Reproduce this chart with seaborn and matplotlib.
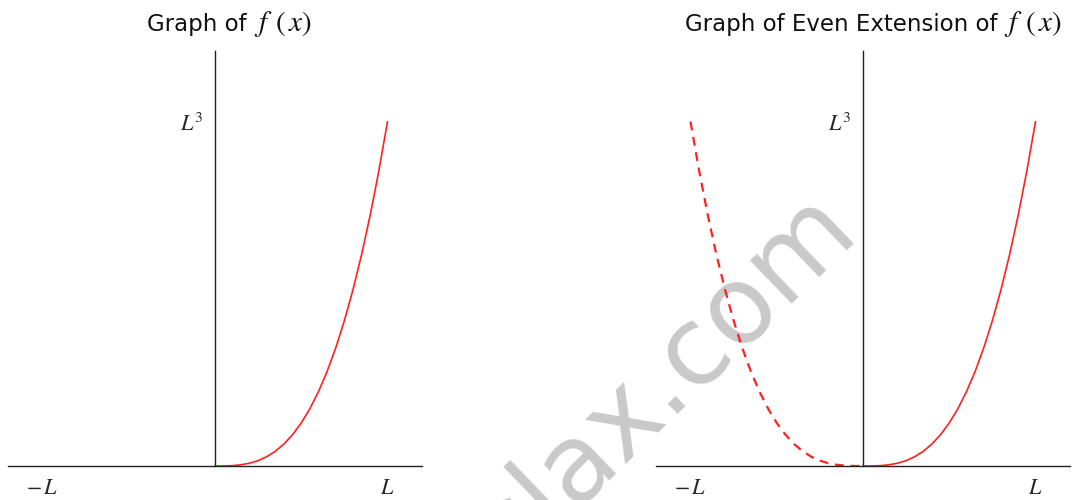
import matplotlib
matplotlib.use("Agg")
import matplotlib.pyplot as plt
import seaborn as sns


# -----------------------------
# DATA (x in units of L, y in units of L^3)
# -----------------------------
curve_x = [0.0, 0.05, 0.1, 0.15, 0.2, 0.25, 0.3, 0.35, 0.4, 0.45, 0.5,
           0.55, 0.6, 0.65, 0.7, 0.75, 0.8, 0.85, 0.9, 0.95, 1.0]
curve_y = [0.0, 0.0001, 0.001, 0.0034, 0.008, 0.0156, 0.027, 0.0429, 0.064,
           0.0911, 0.125, 0.1664, 0.216, 0.2746, 0.343, 0.4219, 0.512,
           0.6141, 0.729, 0.8574, 1.0]
mirror_x = [-v for v in curve_x]

x_ticks = [-1.0, 1.0]
x_tick_labels = ["$-\\,L$", "$L$"]
y_ticks = [1.0]
y_tick_labels = ["$L^3$"]

title_words = ["Graph of", "Graph of Even Extension of"]
title_math = "$f\\;\\,(\\,x)$"


# -----------------------------
# CONFIG
# -----------------------------
sns.set_style("white")
plt.rcParams["font.family"] = ["DejaVu Sans"]
plt.rcParams["mathtext.fontset"] = "stix"

W, H = 1089, 500
AXIS_COLOR = "#222222"
CURVE_COLOR = "#ff2020"


def style_axes(ax):
    ax.set_facecolor("none")
    ax.set_xlim(-1.2, 1.2)
    ax.set_ylim(0, 1.205)
    for side in ["top", "right"]:
        ax.spines[side].set_visible(False)
    ax.spines["left"].set_position(("data", 0))
    for side in ["left", "bottom"]:
        ax.spines[side].set_color(AXIS_COLOR)
        ax.spines[side].set_linewidth(1.0)
    ax.set_xticks(x_ticks)
    ax.set_xticklabels(x_tick_labels, fontsize=16)
    ax.set_yticks(y_ticks)
    ax.set_yticklabels(y_tick_labels, fontsize=16)
    ax.tick_params(axis="both", direction="in", length=5, width=1.0,
                   color=AXIS_COLOR)
    ax.tick_params(axis="x", pad=9)
    ax.tick_params(axis="y", pad=8)
    ax.set_xlabel("")
    ax.set_ylabel("")


def add_title(fig, left_px, words):
    base_y = 1 - 31 / H
    t = fig.text(left_px / W, base_y, words, fontsize=16.5, color="#111111",
                 ha="left", va="baseline")
    fig.canvas.draw()
    ext = t.get_window_extent()
    fig.text((ext.x1 + 7) / W, base_y, title_math, fontsize=21,
             color="#111111", ha="left", va="baseline")


fig = plt.figure(figsize=(W / 100, H / 100), dpi=100)
fig.patch.set_facecolor("white")
ax_left = fig.add_axes([8 / W, 0.068, 414 / W, 0.830])
ax_right = fig.add_axes([656 / W, 0.068, 414 / W, 0.830])

sns.lineplot(x=curve_x, y=curve_y, ax=ax_left, color=CURVE_COLOR, lw=1.2)
style_axes(ax_left)

sns.lineplot(x=curve_x, y=curve_y, ax=ax_right, color=CURVE_COLOR, lw=1.2)
sns.lineplot(x=mirror_x, y=curve_y, ax=ax_right, color=CURVE_COLOR, lw=1.6,
             linestyle=(0, (4, 3)))
style_axes(ax_right)

add_title(fig, 147, title_words[0])
add_title(fig, 685, title_words[1])

# watermark
fig.text(685 / W, 1 - 402 / H, "clax.com", fontsize=78, color="#c9c9c9",
         rotation=44, rotation_mode="anchor", ha="center", va="baseline",
         zorder=-1)

fig.savefig("out.png", dpi=100)
plt.close(fig)
